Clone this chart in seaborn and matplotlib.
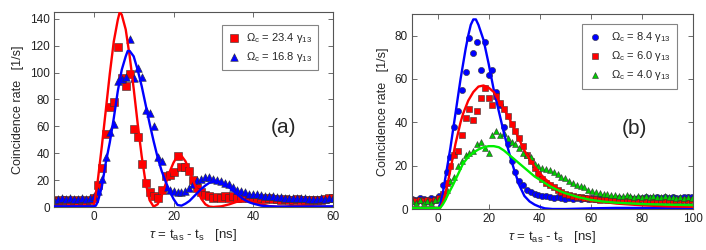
import numpy as np
import pandas as pd
import matplotlib
matplotlib.use("Agg")
import matplotlib.pyplot as plt
import seaborn as sns

# ---------------- panel (a) data ----------------
tau_a = np.arange(-10, 61, 1)  # 1 ns bins
red_a = [5, 4.5, 5, 5, 4.5, 5, 4, 5, 4.5, 5.5,
         7, 16, 29, 54, 74, 78, 119, 96, 90, 99,
         58, 52, 32, 18, 11, 8, 7, 13, 23, 24,
         26, 38, 30, 30, 27, 20, 14, 11, 9, 8,
         7, 7.5, 7, 8, 7, 8, 7, 7, 7.5, 6.5,
         7, 6.5, 7, 6, 6.5, 6, 6, 5.5, 6, 5.5,
         5, 6, 5.5, 5, 5.5, 5, 5.5, 5, 6, 7, 6.5]
blue_a = [5.5, 6, 7, 6, 6.5, 6, 6, 6.5, 6, 7,
          8, 12, 21, 37, 56, 62, 94, 95, 97, 125,
          96, 103, 97, 72, 70, 60, 37, 34, 15, 13,
          12, 11, 11, 12, 14, 17, 20, 21, 22, 22.5,
          21, 20, 19, 18, 17, 15, 13, 12, 11, 10,
          10, 9.5, 9, 8.5, 8, 8, 7.5, 7.5, 7, 7,
          7, 6.5, 6.5, 6.5, 6, 6, 6, 6.5, 6, 7, 7]

fit_red_a_t = [-10, -1, 0, 1, 2, 3, 4, 5, 6, 6.5, 7, 8, 9, 10, 11, 12, 13, 14, 15,
               16, 17, 18, 19, 20, 21, 21.5, 22, 23, 24, 25, 26, 27, 28, 29, 30,
               32, 34, 36, 38, 40, 42, 44, 46, 48, 50, 52, 54, 56, 58, 60]
fit_red_a_y = [0.5, 0.5, 0.5, 20, 45, 72, 99, 123, 139, 145, 143, 132, 112, 88, 62, 38, 18, 5, 0.3,
               2, 8, 17, 26, 33, 38, 38.5, 38, 34, 27, 19, 12, 6, 2, 0.3, 0,
               0.5, 2, 4, 4.5, 3.5, 2, 0.7, 0.2, 0.3, 0.8, 1, 0.8, 0.4, 0.2, 0.2]
fit_blue_a_t = [-10, 0, 0.5, 1, 2, 3, 4, 5, 6, 7, 8, 8.5, 9, 10, 11, 12, 13, 14, 15,
                16, 17, 18, 19, 20, 21, 22, 23, 24, 25, 26, 27, 28, 29, 30, 31, 32,
                33, 34, 35, 36, 37, 38, 39, 40, 42, 44, 46, 50, 60]
fit_blue_a_y = [0.5, 0.5, 1, 4, 15, 33, 48, 66, 86, 102, 112, 116, 116, 112, 102, 90, 76, 62, 49,
                37, 27, 19, 12, 6, 1.5, 1, 2.5, 4.5, 7.5, 10.5, 13.5, 16, 18, 19, 19, 18,
                16.5, 14.5, 12, 9.5, 7, 5, 3.5, 2.5, 1, 0.5, 0.3, 0.3, 0.5]

legend_a = ["Ω$_{\\rm c}$ = 23.4 γ$_{13}$", "Ω$_{\\rm c}$ = 16.8 γ$_{13}$"]

# ---------------- panel (b) data ----------------
tau_b = np.arange(-10, 100, 1.5)
blue_b = [4.5, 4, 5, 4.5, 4, 5, 4.5, 6, 11, 17,
          24, 38, 45, 55, 63, 79, 72, 77, 64, 77,
          62, 64, 54, 48, 38, 30, 22, 17, 13, 11,
          9, 8, 7, 6.5, 6, 6, 5.5, 5, 5.5, 5,
          4.5, 5, 4.5, 5, 4.5, 5, 4.5, 5, 4.5, 5.5,
          5, 5, 4.5, 5, 5, 4.5, 5, 5, 4.5, 5,
          5, 5.5, 5, 5, 5.5, 5, 5.5, 5, 5.5, 5,
          5, 5.5, 5.5, 5.5]
red_b = [4, 3.5, 4, 3.5, 4, 3.5, 4, 5, 7, 12,
         20, 25, 27, 34, 42, 46, 41, 45, 51, 56,
         51, 48, 52, 49, 46, 43, 39, 36, 33, 29,
         25, 22, 19, 16, 14, 12, 11, 10, 9, 8,
         7, 6.5, 6, 5.5, 5.5, 5, 5, 4.5, 4.5, 4,
         4.5, 4, 4, 4.5, 4, 4, 4, 4.5, 4, 4,
         4.5, 4, 4, 3.5, 4, 4, 4, 4, 3.5, 4,
         4, 4, 4, 4]
green_b = [3.5, 3, 4, 3, 3.5, 3, 4, 4.5, 6, 9,
           13, 15, 20, 22, 25, 26, 27, 30, 31, 28,
           26, 34, 36, 34, 35, 33, 31, 30, 28, 26,
           25, 24, 21, 20, 19, 18.5, 18, 17, 16, 15,
           14.5, 13, 12, 11, 10.5, 10, 9, 8.5, 8, 7.5,
           7, 7, 6.5, 6.5, 6, 6, 6.5, 6, 5.5, 6,
           5.5, 6, 5.5, 6, 5.5, 5.5, 6, 5.5, 5.5, 5,
           5.5, 5, 5.5, 5]

fit_blue_b_t = [-10, 0.5, 1, 2, 3, 4, 5, 6, 7, 8, 9, 10, 11, 12, 13, 14, 15, 16, 18, 20,
                22, 24, 26, 28, 30, 32, 34, 36, 38, 40, 42, 45, 50, 60, 70, 100]
fit_blue_b_y = [0.5, 0.5, 2, 7, 14, 21, 28, 36, 44, 52, 60, 67, 74, 80, 85, 87.5, 87.5, 85, 78, 67,
                55, 45, 35, 26, 18, 11, 6, 3.5, 2, 1, 0.3, 0, 0, 0.3, 0.5, 0.5]
fit_red_b_t = [-10, 1, 2, 3, 4, 5, 6, 7, 8, 9, 10, 12, 14, 16, 18, 20, 22, 24, 26, 28,
               30, 32, 34, 36, 38, 40, 42, 44, 46, 48, 50, 55, 60, 70, 80, 90, 100]
fit_red_b_y = [0.5, 0.5, 3, 7, 12, 18, 24, 30, 35, 40, 44, 50, 54, 56.5, 57, 56, 54, 50, 46, 42,
               37, 32, 27, 23, 19.5, 16.5, 14, 12, 10, 8.5, 7.5, 5.3, 4, 2.5, 1.7, 1.2, 1]
fit_green_b_t = [-10, 1, 2, 3, 4, 6, 8, 10, 12, 14, 16, 18, 20, 22, 24, 26, 28, 30, 32, 34,
                 36, 38, 40, 42, 44, 46, 48, 50, 55, 60, 65, 70, 80, 90, 100]
fit_green_b_y = [0.5, 0.5, 2, 4, 6.5, 11, 16, 21, 24, 26, 27.5, 28.5, 29, 29, 28.5, 27, 25, 23, 21, 19,
                 17, 15, 13.5, 12, 10.5, 9.3, 8.2, 7.3, 5.5, 4.2, 3.4, 2.9, 2.3, 2, 1.8]

legend_b = ["Ω$_{\\rm c}$ = 8.4 γ$_{13}$", "Ω$_{\\rm c}$ = 6.0 γ$_{13}$",
            "Ω$_{\\rm c}$ = 4.0 γ$_{13}$"]

# ---------------- style ----------------
sns.set_theme(style="ticks")
plt.rcParams["font.family"] = ["Liberation Sans", "DejaVu Sans"]
plt.rcParams["mathtext.fontset"] = "custom"
plt.rcParams["mathtext.rm"] = "Liberation Sans"
plt.rcParams["mathtext.it"] = "Liberation Sans:italic"
plt.rcParams["xtick.direction"] = "in"
plt.rcParams["ytick.direction"] = "in"
plt.rcParams["axes.edgecolor"] = "#555555"
plt.rcParams["axes.linewidth"] = 0.8

RED = "#ff0000"
BLUE = "#0000ff"
GREEN_LINE = "#00ee00"
GREEN_PT = "#00cc00"
EDGE = "#333333"

fig = plt.figure(figsize=(7.06, 2.5), dpi=100)
ax_a = fig.add_axes([0.0765, 0.172, 0.395, 0.780])
ax_b = fig.add_axes([0.5836, 0.164, 0.398, 0.780])

fs = 8.5

# panel (a)
sns.scatterplot(x=tau_a, y=red_a, marker="s", color=RED, edgecolor=EDGE, linewidth=0.4,
                s=26, ax=ax_a, label=legend_a[0], zorder=2)
sns.scatterplot(x=tau_a, y=blue_a, marker="^", color=BLUE, edgecolor=EDGE, linewidth=0.4,
                s=30, ax=ax_a, label=legend_a[1], zorder=2)
sns.lineplot(x=fit_red_a_t, y=fit_red_a_y, color=RED, lw=1.7, ax=ax_a, legend=False, zorder=3)
sns.lineplot(x=fit_blue_a_t, y=fit_blue_a_y, color=BLUE, lw=1.7, ax=ax_a, legend=False, zorder=3)
ax_a.set_xlim(-10, 60)
ax_a.set_ylim(0, 145)
ax_a.set_xticks([0, 20, 40, 60])
ax_a.set_yticks(range(0, 141, 20))
ax_a.text(47.5, 59, "(a)", fontsize=15, ha="center", va="center")

# panel (b)
sns.scatterplot(x=tau_b, y=blue_b, marker="o", color=BLUE, edgecolor=EDGE, linewidth=0.4,
                s=20, ax=ax_b, label=legend_b[0], zorder=2)
sns.scatterplot(x=tau_b, y=red_b, marker="s", color=RED, edgecolor=EDGE, linewidth=0.4,
                s=15, ax=ax_b, label=legend_b[1], zorder=2)
sns.scatterplot(x=tau_b, y=green_b, marker="^", color=GREEN_PT, edgecolor=EDGE, linewidth=0.4,
                s=18, ax=ax_b, label=legend_b[2], zorder=2)
sns.lineplot(x=fit_blue_b_t, y=fit_blue_b_y, color=BLUE, lw=1.7, ax=ax_b, legend=False, zorder=3)
sns.lineplot(x=fit_red_b_t, y=fit_red_b_y, color=RED, lw=1.7, ax=ax_b, legend=False, zorder=3)
sns.lineplot(x=fit_green_b_t, y=fit_green_b_y, color=GREEN_LINE, lw=1.7, ax=ax_b, legend=False, zorder=3)
ax_b.set_xlim(-10, 100)
ax_b.set_ylim(0, 90)
ax_b.set_xticks(range(0, 101, 20))
ax_b.set_yticks(range(0, 81, 20))
ax_b.text(77, 37, "(b)", fontsize=15, ha="center", va="center")

xlabel = r"$\tau$ = t$_{\rm as}$ - t$_{\rm s}$   [ns]"
for ax in (ax_a, ax_b):
    ax.set_xlabel(xlabel, fontsize=fs + 1, labelpad=3)
    ax.set_ylabel("Coincidence rate   [1/s]", fontsize=fs + 0.5, labelpad=4)
    ax.tick_params(axis="both", which="both", labelsize=fs, length=3.5, width=0.6,
                   top=True, right=True, color="#555555", pad=3, labelcolor="#222222")
    for sp in ax.spines.values():
        sp.set_visible(True)
        sp.set_color("#555555")

leg_a = ax_a.legend(loc="upper left", bbox_to_anchor=(0.602, 0.935), borderaxespad=0,
                    fontsize=8, frameon=True, fancybox=False, edgecolor="#666666",
                    handletextpad=0.6, borderpad=0.55, labelspacing=0.45, handlelength=1.0)
leg_a.get_frame().set_linewidth(0.8)
leg_b = ax_b.legend(loc="upper left", bbox_to_anchor=(0.604, 0.95), borderaxespad=0,
                    fontsize=8, frameon=True, fancybox=False, edgecolor="#666666",
                    handletextpad=0.8, borderpad=0.6, labelspacing=0.45, handlelength=1.2)
leg_b.get_frame().set_linewidth(0.8)

fig.savefig("out.png", dpi=100)
